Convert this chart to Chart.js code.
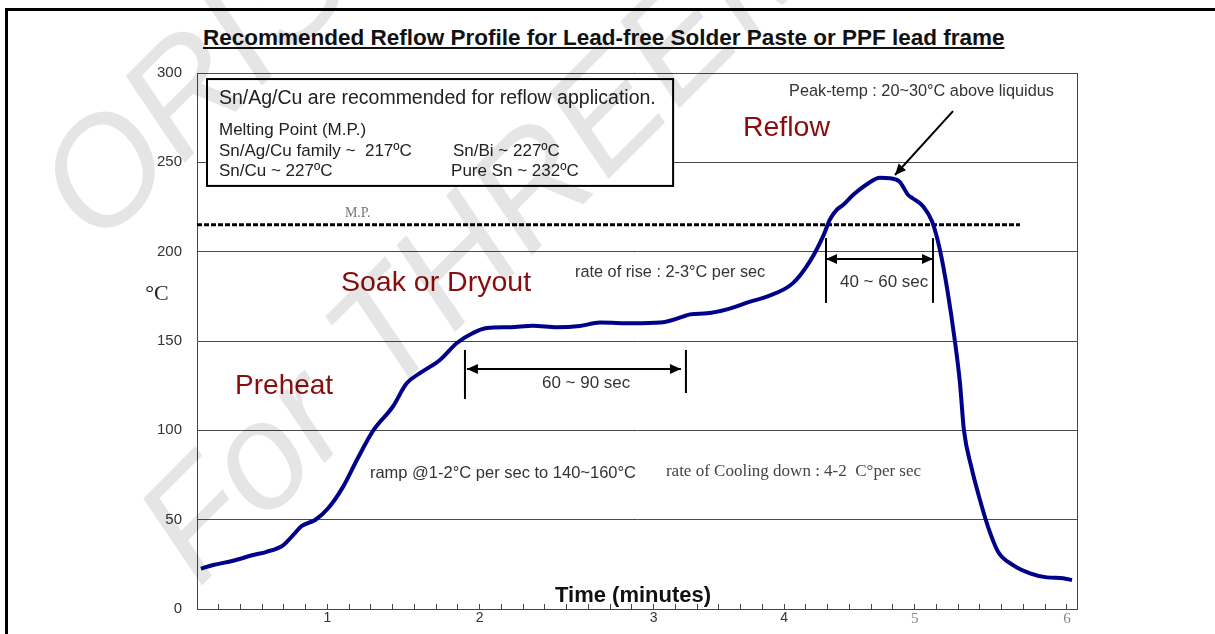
<!DOCTYPE html>
<html lang="en">
<head>
    <meta charset="UTF-8">
    <title>Reflow Profile</title>
    <script src="https://cdn.jsdelivr.net/npm/chart.js"></script>
    <style>
        body {
            margin: 0;
            width: 1215px;
            height: 634px;
            overflow: hidden;
            position: relative;
            background: #fff;
            font-family: 'Liberation Sans', Arial, sans-serif;
        }
        #frame {
            position: absolute;
            left: 5px; top: 8px; right: 0; bottom: 0;
            border-top: 3px solid #000;
            border-left: 3px solid #000;
        }
        #title {
            position: absolute;
            left: 203px; top: 26px;
            font-weight: bold;
            font-size: 22.5px;
            line-height: 24px;
            color: #111;
            white-space: nowrap;
            text-decoration: underline;
            text-decoration-thickness: 2px;
            text-underline-offset: 2px;
        }
        canvas { position: absolute; left: 0; top: 0; }
        .wm {
            position: absolute;
            font-style: italic;
            font-size: 150px;
            line-height: 150px;
            color: rgba(0, 0, 0, .1);
            white-space: nowrap;
            transform-origin: 0 100%;
            transform: rotate(-45deg);
            pointer-events: none;
        }
    </style>
</head>
<body>

<div id="frame"></div>
<div id="title">Recommended Reflow Profile for Lead-free Solder Paste or PPF lead frame</div>
<canvas id="reflowChart" width="1215" height="634"></canvas>
<div class="wm" style="left:115px; top:115px;">ORISE</div>
<div class="wm" style="left:215px; top:455px;">For THREEM</div>

<script>
    // x is measured in axis tick steps (the minute labels sit on uneven ticks)
    const xTickAt = [6, 13, 21, 27, 33, 40];
    const xTickText = ['1', '2', '3', '4', '5', '6'];
    const xMax = 40.46;

    const timeSteps = [0.18, 0.74, 1.66, 2.58, 3.2, 3.97, 4.43, 4.82, 5.43, 6.04, 6.72, 7.35, 8.1, 9.0, 9.64,
        10.25, 11.17, 11.95, 12.69, 13.33, 14.39, 15.45, 16.55, 17.6, 18.53, 20.05, 21.29, 22.34, 22.67,
        23.45, 24.37, 25.43, 26.2, 27.4, 28.2, 28.8, 29.1, 29.4, 29.7, 30.16, 30.8, 31.4, 31.86, 32.3,
        32.7, 32.9, 33.4, 33.8, 34.16, 34.5, 34.85, 35.08, 35.26, 35.6, 36.0, 36.37, 36.83, 37.52, 38.3,
        39.08, 39.82, 40.23];
    const tempC = [22.6, 24.6, 27.0, 30.2, 32.0, 35.8, 41.5, 46.5, 49.8, 56.5, 68.5, 83.4, 99.8, 113.2, 126.3,
        132.0, 139.4, 148.9, 154.5, 157.3, 157.7, 158.6, 157.7, 158.4, 160.3, 159.9, 160.3, 163.6, 164.9,
        165.5, 167.7, 172.0, 174.8, 182.4, 195.0, 209.0, 218.0, 223.3, 226.1, 231.7, 237.7, 241.4, 241.1, 239.2,
        231.7, 229.9, 225.2, 216.8, 200.9, 178.5, 149.6, 126.3, 100.2, 79.6, 61.0, 46.0, 32.1, 24.6, 20.0,
        17.7, 17.2, 16.2];

    const meltPoint = 215;
    const meltSpan = [0, 37.84];

    const RED = '#8b0c0c';
    const SANS = '"Liberation Sans", Arial, sans-serif';
    const SERIF = '"Liberation Serif", "Times New Roman", serif';

    // annotation text, placed in chart units
    const notes = [
        { t: 'Reflow', x: 25.1, y: 269.2, f: '28.5px ' + SANS, c: RED },
        { t: 'Soak or Dryout', x: 6.62, y: 182.5, f: '28.5px ' + SANS, c: RED },
        { t: 'Preheat', x: 1.75, y: 124.8, f: '28px ' + SANS, c: RED },
        { t: 'Peak-temp : 20~30°C above liquidus', x: 27.22, y: 289.4, f: '16.3px ' + SANS, c: '#333' },
        { t: 'rate of rise : 2-3°C per sec', x: 17.38, y: 188.1, f: '16.3px ' + SANS, c: '#333' },
        { t: '40 ~ 60 sec', x: 29.56, y: 183.0, f: '17px ' + SANS, c: '#333' },
        { t: '60 ~ 90 sec', x: 15.86, y: 126.5, f: '17px ' + SANS, c: '#333' },
        { t: 'ramp @1-2°C per sec to 140~160°C', x: 7.95, y: 76.1, f: '16.5px ' + SANS, c: '#333' },
        { t: 'rate of Cooling down : 4-2  C°per sec', x: 21.56, y: 76.7, f: '17px ' + SERIF, c: '#444' },
        { t: 'M.P.', x: 6.8, y: 221.6, f: '14px ' + SERIF, c: '#777' },
        { t: '°C', x: -1.84, y: 176.3, f: '22px ' + SERIF, c: '#222', align: 'center' },
        { t: 'Time (minutes)', x: 16.46, y: 7.3, f: 'bold 22px ' + SANS, c: '#111' }
    ];

    const infoBox = { x1: 0.46, y1: 296.6, x2: 21.89, y2: 236.8 };
    const infoLines = [
        { t: 'Sn/Ag/Cu are recommended for reflow application.', x: 1.01, y: 285.4, f: '19.5px ' + SANS },
        { t: 'Melting Point (M.P.)', x: 1.01, y: 268.1, f: '17px ' + SANS },
        { t: 'Sn/Ag/Cu family ~  217ºC', x: 1.01, y: 256.3, f: '17px ' + SANS },
        { t: 'Sn/Cu ~ 227ºC', x: 1.01, y: 245.1, f: '17px ' + SANS },
        { t: 'Sn/Bi ~ 227ºC', x: 11.77, y: 256.3, f: '17px ' + SANS },
        { t: 'Pure Sn ~ 232ºC', x: 11.68, y: 245.1, f: '17px ' + SANS }
    ];

    // [x1, y1, x2, y2, heads]
    const marks = [
        [34.76, 278.7, 32.09, 242.9, 'end'],
        [28.92, 207.6, 28.92, 171.3, ''],
        [33.84, 207.6, 33.84, 171.3, ''],
        [28.92, 195.9, 33.84, 195.9, 'both'],
        [12.32, 145.0, 12.32, 117.5, ''],
        [22.48, 145.0, 22.48, 120.9, ''],
        [12.41, 134.3, 22.25, 134.3, 'both']
    ];

    function arrowHead(ctx, fx, fy, tx, ty) {
        const a = Math.atan2(ty - fy, tx - fx);
        const len = 11, half = 5;
        ctx.beginPath();
        ctx.moveTo(tx, ty);
        ctx.lineTo(tx - len * Math.cos(a) + half * Math.sin(a), ty - len * Math.sin(a) - half * Math.cos(a));
        ctx.lineTo(tx - len * Math.cos(a) - half * Math.sin(a), ty - len * Math.sin(a) + half * Math.cos(a));
        ctx.closePath();
        ctx.fill();
    }

    const notesPlugin = {
        id: 'notes',
        afterDatasetsDraw(chart) {
            const ctx = chart.ctx;
            const px = v => chart.scales.x.getPixelForValue(v);
            const py = v => chart.scales.y.getPixelForValue(v);
            ctx.save();

            // melting point box
            const bx = px(infoBox.x1), by = py(infoBox.y1);
            const bw = px(infoBox.x2) - bx, bh = py(infoBox.y2) - by;
            ctx.fillStyle = '#fff';
            ctx.fillRect(bx, by, bw, bh);
            ctx.strokeStyle = '#000';
            ctx.lineWidth = 2;
            ctx.strokeRect(bx, by, bw, bh);

            ctx.textBaseline = 'middle';
            infoLines.forEach(n => {
                ctx.font = n.f;
                ctx.fillStyle = '#222';
                ctx.textAlign = 'left';
                ctx.fillText(n.t, px(n.x), py(n.y));
            });

            notes.forEach(n => {
                ctx.font = n.f;
                ctx.fillStyle = n.c;
                ctx.textAlign = n.align || 'left';
                ctx.fillText(n.t, px(n.x), py(n.y));
            });

            ctx.strokeStyle = '#000';
            ctx.fillStyle = '#000';
            ctx.lineWidth = 2;
            marks.forEach(m => {
                const x1 = px(m[0]), y1 = py(m[1]), x2 = px(m[2]), y2 = py(m[3]);
                ctx.beginPath();
                ctx.moveTo(x1, y1);
                ctx.lineTo(x2, y2);
                ctx.stroke();
                if (m[4] === 'end' || m[4] === 'both') arrowHead(ctx, x1, y1, x2, y2);
                if (m[4] === 'both') arrowHead(ctx, x2, y2, x1, y1);
            });
            ctx.restore();
        }
    };

    const ctx = document.getElementById('reflowChart').getContext('2d');
    new Chart(ctx, {
        type: 'line',
        data: {
            datasets: [{
                data: timeSteps.map((x, i) => ({ x: x, y: tempC[i] })),
                borderColor: '#000088',
                borderWidth: 4,
                pointRadius: 0,
                cubicInterpolationMode: 'monotone',
                fill: false
            }, {
                data: meltSpan.map(x => ({ x: x, y: meltPoint })),
                borderColor: '#000',
                borderWidth: 3,
                borderDash: [5, 2],
                pointRadius: 0,
                fill: false
            }]
        },
        options: {
            responsive: false,
            animation: false,
            layout: { padding: { top: 73, right: 138, left: 0, bottom: 0 } },
            scales: {
                x: {
                    type: 'linear',
                    min: 0,
                    max: xMax,
                    afterFit: s => { s.height = 25; },
                    border: { color: '#444', width: 1 },
                    grid: { drawOnChartArea: false, color: '#444', tickLength: -5 },
                    ticks: {
                        stepSize: 1,
                        autoSkip: false,
                        includeBounds: false,
                        maxRotation: 0,
                        padding: 6,
                        callback: v => {
                            const k = xTickAt.indexOf(Math.round(v));
                            return k >= 0 ? xTickText[k] : '';
                        },
                        color: c => (c.tick && c.tick.value >= 33 ? '#888' : '#333'),
                        font: c => (c.tick && c.tick.value >= 33
                            ? { family: SERIF, size: 15 }
                            : { family: SANS, size: 14 })
                    }
                },
                y: {
                    min: 0,
                    max: 300,
                    afterFit: s => { s.width = 197; },
                    border: { color: '#444', width: 1 },
                    grid: { color: '#4a4a4a', drawTicks: false },
                    ticks: { stepSize: 50, padding: 15, color: '#333', font: { family: SANS, size: 15 } }
                },
                y2: {
                    position: 'right',
                    afterFit: s => { s.width = 0; },
                    border: { display: true, color: '#444', width: 1 },
                    grid: { display: false, drawTicks: false },
                    ticks: { display: false }
                }
            },
            plugins: {
                legend: { display: false },
                tooltip: { enabled: false }
            }
        },
        plugins: [notesPlugin]
    });
</script>

</body>
</html>
